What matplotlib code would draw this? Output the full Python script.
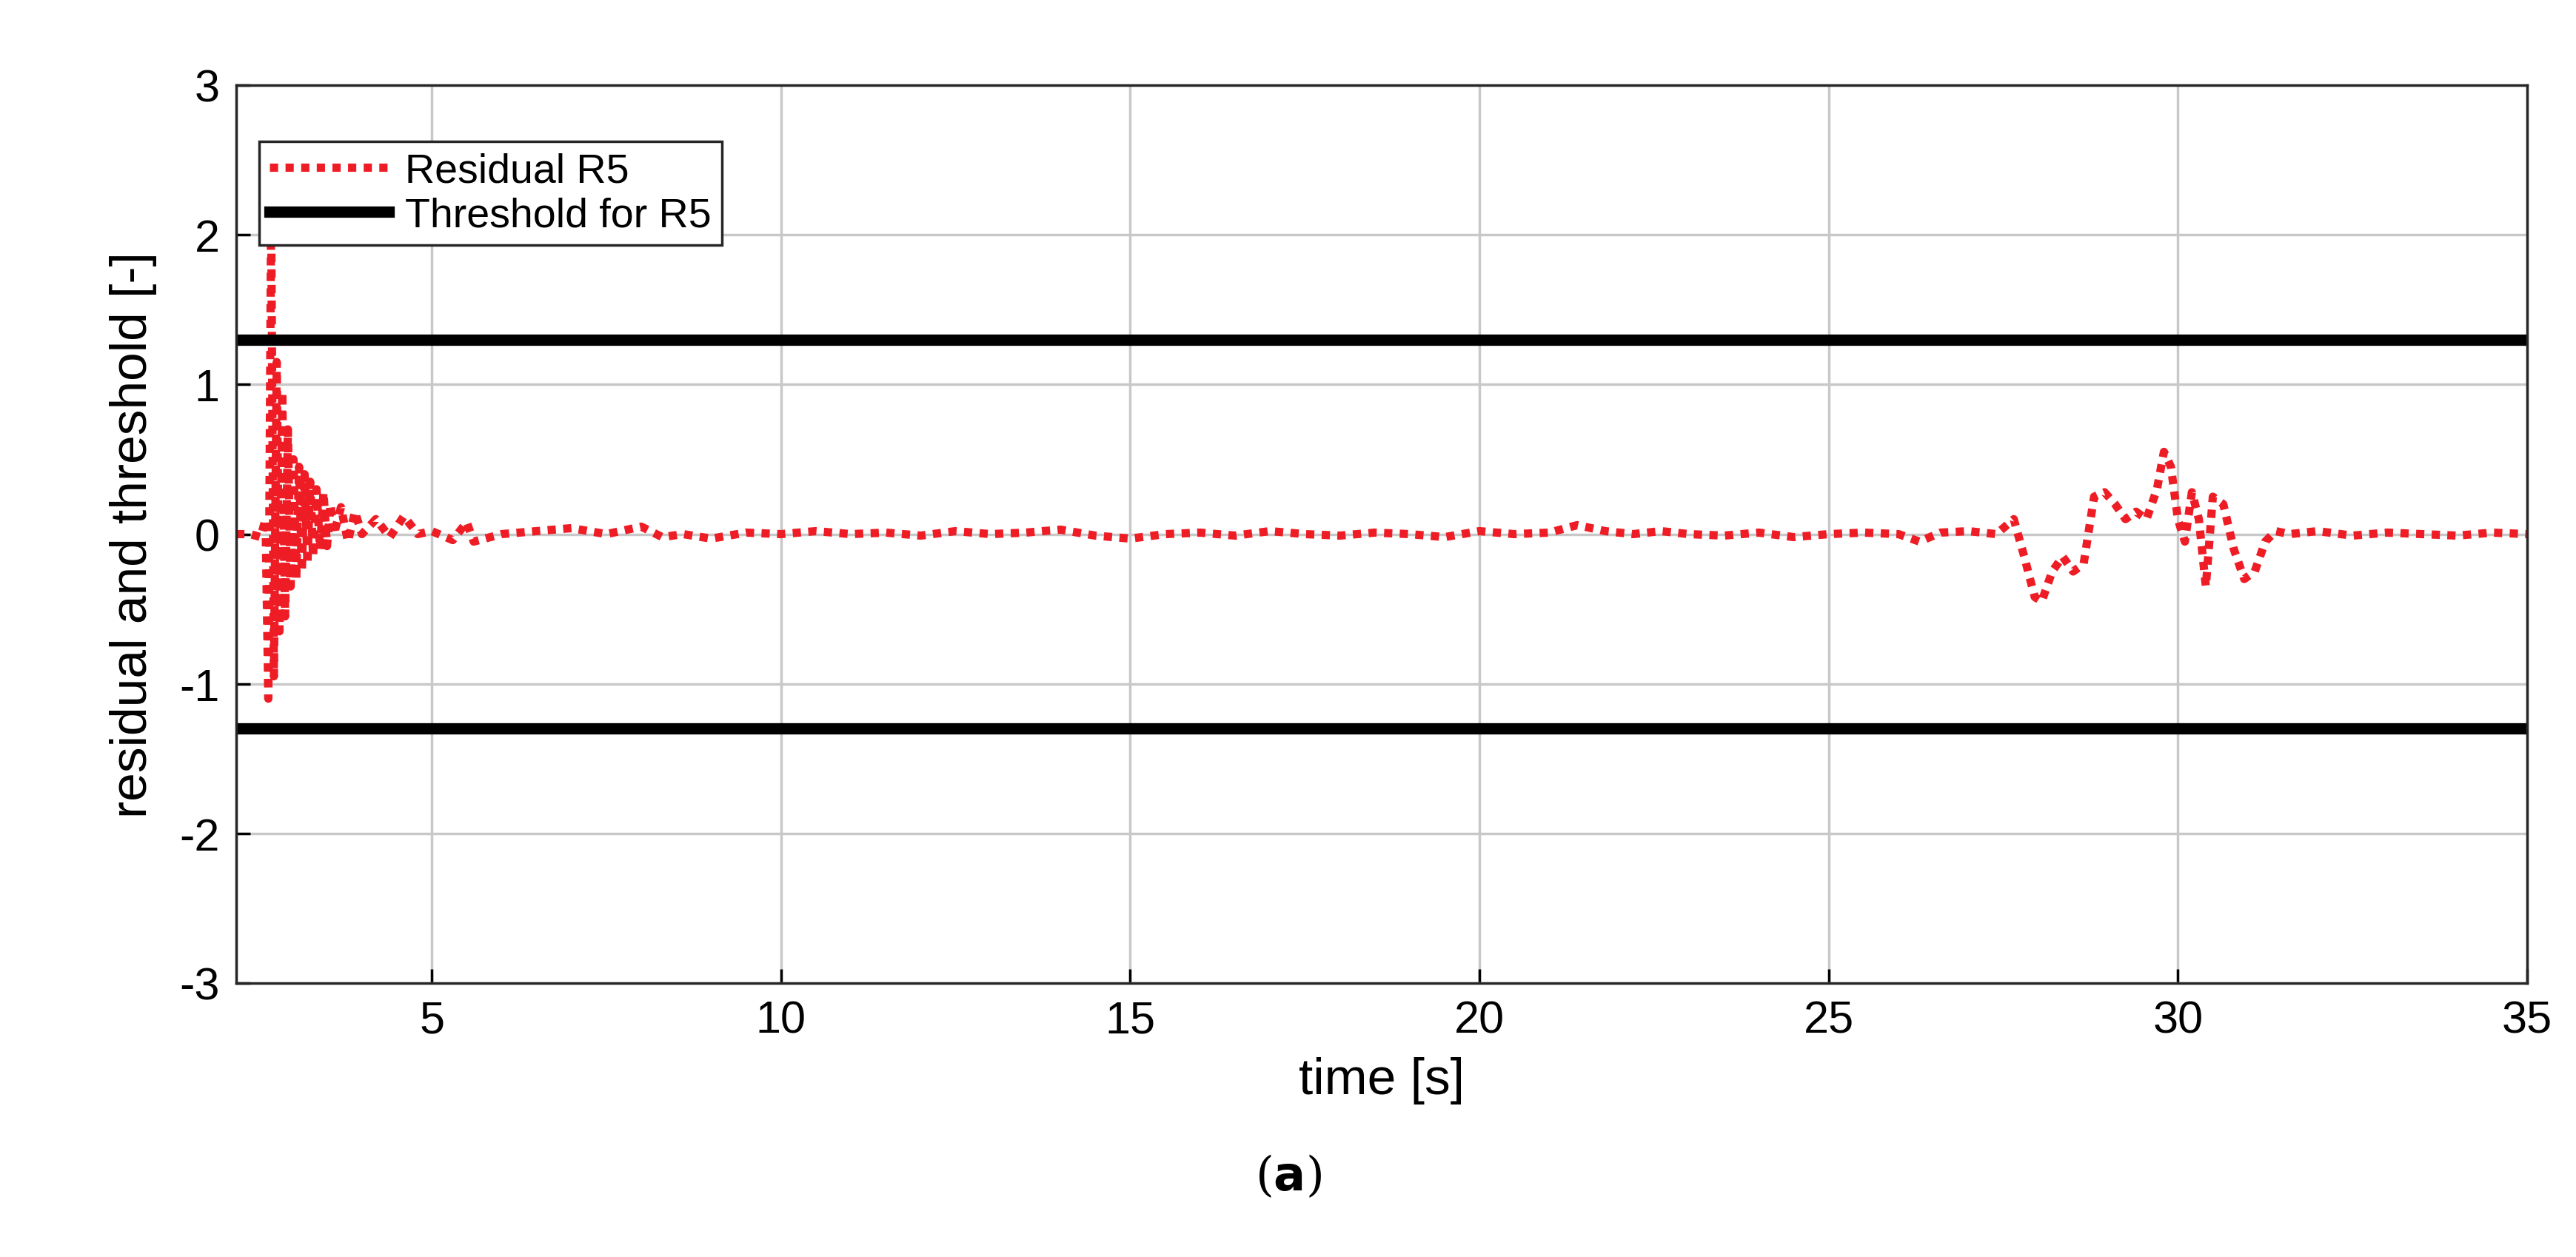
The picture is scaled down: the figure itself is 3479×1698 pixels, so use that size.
import numpy as np
from matplotlib import pyplot as plt

plt.rcParams['font.family'] = ['Liberation Sans', 'DejaVu Sans']
plt.rcParams['axes.unicode_minus'] = False

# residual R5
t_res = [2.2, 2.4, 2.55, 2.62, 2.66, 2.7, 2.74, 2.78, 2.82, 2.86, 2.9, 2.94, 2.98, 3.02,
         3.06, 3.1, 3.14, 3.18, 3.22, 3.26, 3.3, 3.35, 3.4, 3.45, 3.5, 3.55, 3.6, 3.7,
         3.8, 3.9, 4.0, 4.2, 4.4, 4.6, 4.8, 5.0, 5.3, 5.5, 5.6, 6.0, 6.5, 7.0, 7.5, 8.0,
         8.3, 8.6, 9.0, 9.5, 10.0, 10.5, 11.0, 11.5, 12.0, 12.5, 13.0, 13.5, 14.0, 14.5,
         15.0, 15.5, 16.0, 16.5, 17.0, 17.5, 18.0, 18.5, 19.0, 19.5, 20.0, 20.5, 21.0,
         21.4, 21.8, 22.2, 22.6, 23.0, 23.5, 24.0, 24.5, 25.0, 25.5, 26.0, 26.3, 26.6,
         27.0, 27.4, 27.65, 27.8, 27.95, 28.05, 28.2, 28.35, 28.5, 28.65, 28.8, 28.95,
         29.1, 29.25, 29.4, 29.55, 29.7, 29.8, 29.9, 30.0, 30.1, 30.2, 30.3, 30.4, 30.5,
         30.65, 30.8, 30.95, 31.1, 31.25, 31.4, 31.6, 32.0, 32.5, 33.0, 33.5, 34.0, 34.5, 35.0]
r_res = [0.0, 0.0, -0.02, 0.1, -1.1, 2.2, -0.95, 1.15, -0.65, 0.95, -0.55, 0.7, -0.35, 0.5,
         -0.3, 0.45, -0.25, 0.4, -0.2, 0.35, -0.15, 0.3, -0.1, 0.28, -0.08, 0.2, 0.0, 0.18,
         -0.05, 0.15, 0.0, 0.1, -0.02, 0.12, 0.0, 0.02, -0.04, 0.08, -0.05, 0.0, 0.02, 0.04,
         0.0, 0.05, -0.02, 0.0, -0.03, 0.01, 0.0, 0.02, 0.0, 0.01, -0.01, 0.02, 0.0, 0.01,
         0.03, -0.01, -0.03, 0.0, 0.01, -0.01, 0.02, 0.0, -0.01, 0.01, 0.0, -0.02, 0.02, 0.0,
         0.01, 0.06, 0.02, 0.0, 0.02, 0.0, -0.01, 0.01, -0.02, 0.0, 0.01, 0.0, -0.05, 0.01,
         0.02, 0.0, 0.1, -0.15, -0.42, -0.45, -0.25, -0.15, -0.25, -0.2, 0.25, 0.28, 0.2,
         0.1, 0.15, 0.1, 0.3, 0.55, 0.45, 0.1, -0.05, 0.28, 0.1, -0.35, 0.25, 0.2, -0.1,
         -0.3, -0.25, -0.05, 0.02, 0.0, 0.02, -0.01, 0.01, 0.0, -0.01, 0.01, 0.0]
thr = 1.3

fig = plt.figure(figsize=(34.8, 16.99), dpi=100)
ax = fig.add_axes([319/3480, 1-1329/1699, (3413-319)/3480, (1329-116)/1699])

ax.plot(t_res, r_res, color='#ee1c25', linestyle=(0, (1, 0.9)), linewidth=8,
        label='Residual R5')
ax.axhline(thr, color='black', linewidth=11, label='Threshold for R5')
ax.axhline(-thr, color='black', linewidth=11)

ax.set_xlim(2.2, 35)
ax.set_ylim(-3, 3)
ax.set_xticks([5, 10, 15, 20, 25, 30, 35])
ax.set_yticks([-3, -2, -1, 0, 1, 2, 3])
ax.grid(True, color='#c8c8c8', linewidth=2.5)
ax.tick_params(direction='in', labelsize=44, length=14, width=2.5, pad=16)
for s in ax.spines.values():
    s.set_linewidth(2.5)
    s.set_color('#262626')
ax.set_xlabel('time [s]', fontsize=50, labelpad=14)
ax.set_ylabel('residual and threshold [-]', fontsize=50, labelpad=22)

leg = ax.legend(loc='upper left', bbox_to_anchor=(0.001, 0.96), fontsize=40,
                fancybox=False, framealpha=1, edgecolor='#262626',
                borderpad=0.25, handlelength=2.9, handletextpad=0.4, labelspacing=0.15)
leg.get_frame().set_linewidth(2.5)

fig.text(0.5, 1-1590/1699, r'($\mathbf{a}$)', ha='center', va='center', fontsize=46,
         family='DejaVu Serif')

fig.savefig('out.png')
